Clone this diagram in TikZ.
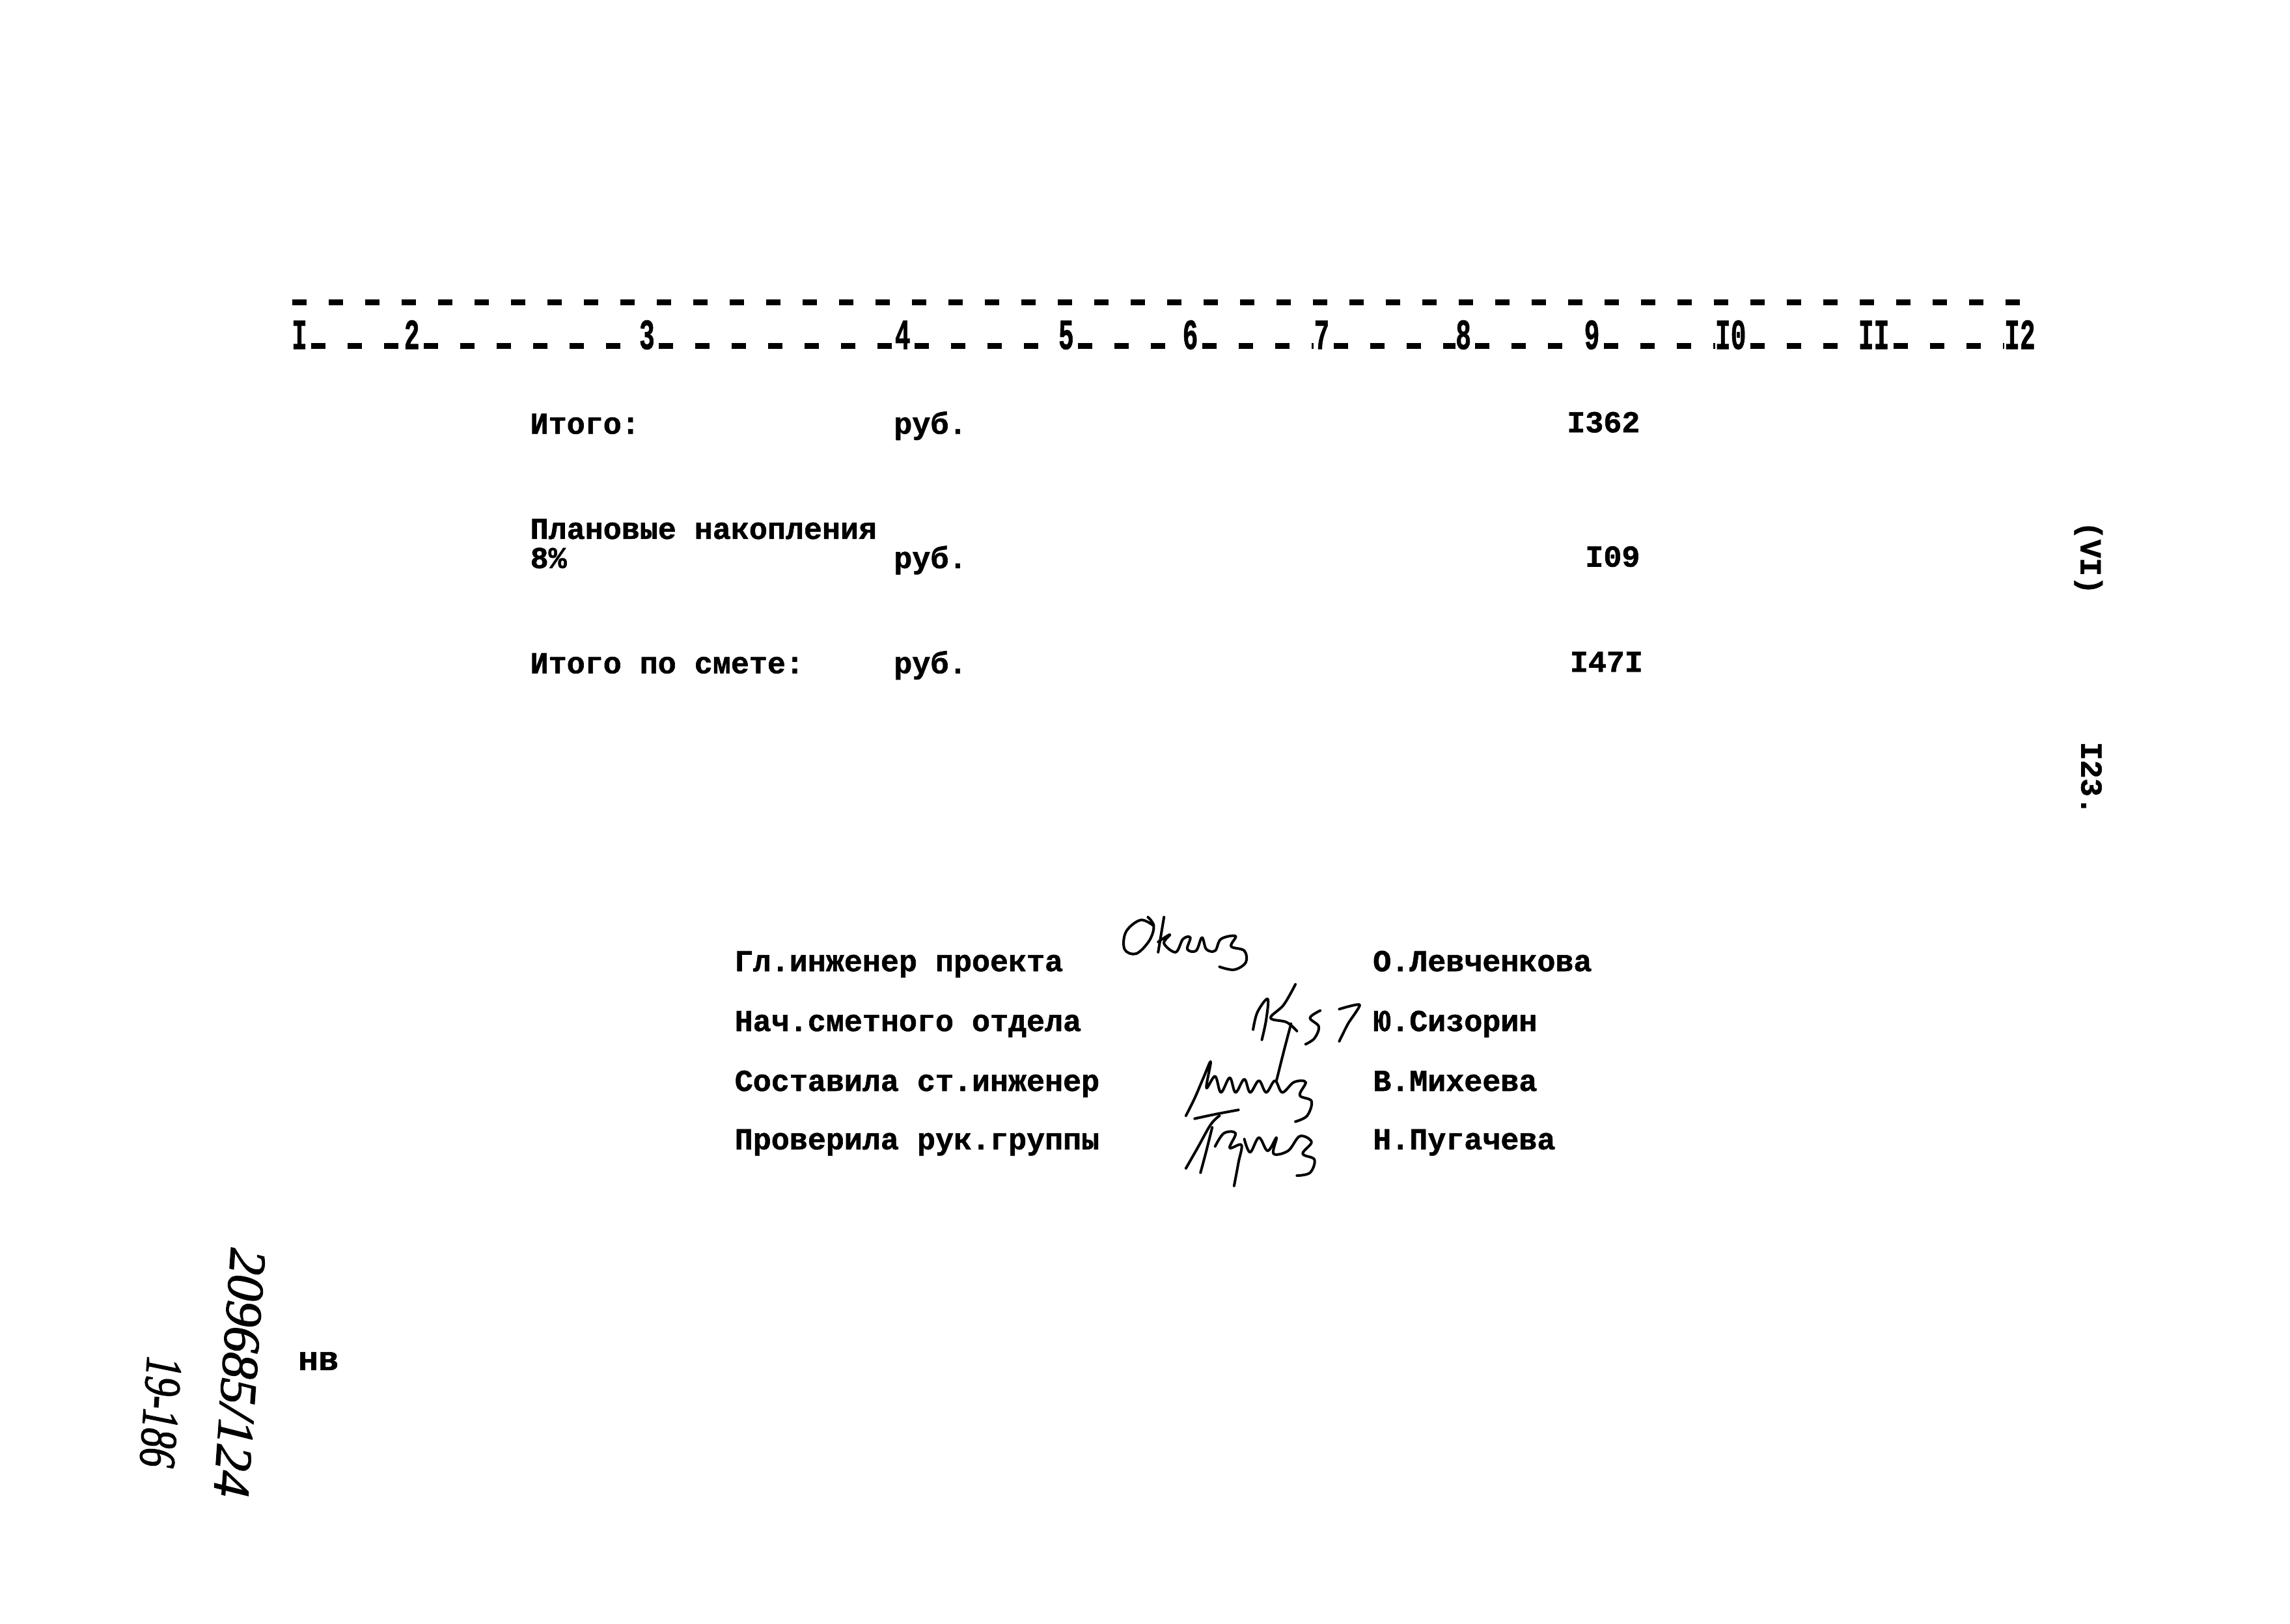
\documentclass[tikz,border=0pt]{standalone}
\usepackage{graphicx}
\usepackage{fontspec}
\newfontfamily\tw{Liberation Mono}[UprightFont=* Bold, FakeBold=1.3]
\newfontfamily\hw{Liberation Serif}[UprightFont=* Italic, FakeBold=1.5]
\begin{document}
\begin{tikzpicture}[x=2.2436pt,y=-2.2436pt,
  typed/.style={font=\tw\fontsize{46.7pt}{50pt}\selectfont, inner sep=0pt},
  colnum/.style={font=\tw\fontsize{66pt}{70pt}\selectfont, inner sep=0pt, anchor=base},
  dashrow/.style={line width=9pt, dash pattern=on 22pt off 34pt},
  sig/.style={line width=4pt, line cap=round, line join=round},
  hand/.style={font=\hw\fontsize{80pt}{84pt}\selectfont, inner sep=0pt}]
\fill[white] (0,0) rectangle (1568,1112);
\useasboundingbox (0,0) rectangle (1568,1112);

% header
\draw[dashrow, dash phase=0pt] (200,207) -- (1392,207);
\node[colnum] (c1) at (205,239) {\scalebox{0.6}[1]{I}};
\node[colnum] (c2) at (282,239) {\scalebox{0.6}[1]{2}};
\node[colnum] (c3) at (443,239) {\scalebox{0.6}[1]{3}};
\node[colnum] (c4) at (618,239) {\scalebox{0.6}[1]{4}};
\node[colnum] (c5) at (730,239) {\scalebox{0.6}[1]{5}};
\node[colnum] (c6) at (815,239) {\scalebox{0.6}[1]{6}};
\node[colnum] (c7) at (905,239) {\scalebox{0.6}[1]{7}};
\node[colnum] (c8) at (1002,239) {\scalebox{0.6}[1]{8}};
\node[colnum] (c9) at (1090,239) {\scalebox{0.6}[1]{9}};
\node[colnum] (c10) at (1185,239) {\scalebox{0.6}[1]{I0}};
\node[colnum] (c11) at (1283,239) {\scalebox{0.6}[1]{II}};
\node[colnum] (c12) at (1383,239) {\scalebox{0.6}[1]{I2}};
\foreach \a/\b in {c1/c2,c2/c3,c3/c4,c4/c5,c5/c6,c6/c7,c7/c8,c8/c9,c9/c10,c10/c11,c11/c12}
  \draw[dashrow, dash phase=50pt] ([yshift=5pt]\a.base east) -- ([yshift=5pt]\b.base west);

% totals
\node[typed, anchor=base west] (t1) at (363,297) {Итого:};
\node[typed, anchor=base west] (r1) at (612,297) {руб.};
\node[typed, anchor=base east] (v1) at (1123,296) {I362};
\node[typed, anchor=base west] (t2) at (363,369) {Плановые накопления};
\node[typed, anchor=base west] (t2b) at (363,389) {8\%};
\node[typed, anchor=base west] (r2) at (612,389) {руб.};
\node[typed, anchor=base east] (v2) at (1123,388) {I09};
\node[typed, anchor=base west] (t3) at (363,461) {Итого по смете:};
\node[typed, anchor=base west] (r3) at (612,461) {руб.};
\node[typed, anchor=base east] (v3) at (1125,460) {I47I};

% right margin
\node[typed, rotate=-90] (sec) at (1430,382) {(VI)};
\node[typed, rotate=-90] (pg) at (1432,533) {I23.};

% signatures block
\node[typed, anchor=base west] (p1) at (503,665) {Гл.инженер проекта};
\node[typed, anchor=base west] (p2) at (503,706) {Нач.сметного отдела};
\node[typed, anchor=base west] (p3) at (503,747) {Составила ст.инженер};
\node[typed, anchor=base west] (p4) at (503,787) {Проверила рук.группы};
\node[typed, anchor=base west] (n1) at (940,665) {О.Левченкова};
\node[typed, anchor=base west] (n2) at (940,706) {Ю.Сизорин};
\node[typed, anchor=base west] (n3) at (940,747) {В.Михеева};
\node[typed, anchor=base west] (n4) at (940,787) {Н.Пугачева};

% handwritten signatures
\draw[sig] plot[smooth, tension=0.6] coordinates {(790,634) (781,630) (771,638) (770,650) (778,653) (787,644) (790,634) (786,628)};
\draw[sig] (797,628) -- (793,652);
\draw[sig] plot[smooth, tension=0.6] coordinates {(793,645) (801,640) (797,646) (805,652) (810,643) (815,642) (813,650) (819,651) (823,642) (826,650) (832,651) (836,643) (846,641) (843,648) (852,651) (853,659) (845,664) (835,662)};
\draw[sig] plot[smooth, tension=0.6] coordinates {(858,705) (861,693) (868,684) (867,698) (864,712)};
\draw[sig] plot[smooth, tension=0.6] coordinates {(887,674) (879,688) (870,697) (881,700) (888,706)};
\draw[sig] plot[smooth, tension=0.5] coordinates {(884,701) (879,720) (874,740)};
\draw[sig] plot[smooth, tension=0.6] coordinates {(904,692) (897,697) (903,703) (900,711) (894,715)};
\draw[sig] plot[smooth, tension=0.4] coordinates {(917,691) (931,688) (923,701) (917,713)};
\draw[sig] plot[smooth, tension=0.6] coordinates {(812,764) (818,752) (824,738) (829,727) (826,745) (832,737) (836,748) (842,738) (846,748) (852,739) (856,748) (862,740) (867,748) (873,740) (878,748) (886,741) (894,741) (890,750) (898,754) (895,764) (887,768)};
\draw[sig] plot[smooth, tension=0.6] coordinates {(812,800) (820,786) (829,770) (835,764)};
\draw[sig] plot[smooth, tension=0.6] coordinates {(818,766) (832,763) (848,760)};
\draw[sig] plot[smooth, tension=0.6] coordinates {(830,772) (826,788) (822,803)};
\draw[sig] plot[smooth, tension=0.6] coordinates {(832,785) (838,776) (846,776) (842,786) (850,784) (848,796) (845,812)};
\draw[sig] plot[smooth, tension=0.6] coordinates {(852,780) (856,789) (862,779) (868,788) (874,779) (872,790) (882,788) (890,778) (898,782) (892,790) (900,794) (897,803) (888,805)};

% archive marks
\node[hand, rotate=-94] (arch1) at (164,940) {209685/124};
\node[hand, rotate=-94] (arch2) at (110,967) {\scalebox{0.75}[1]{19-186}};
\node[font=\tw\fontsize{52pt}{56pt}\selectfont, inner sep=0pt] (nv) at (218,932) {нв};
\end{tikzpicture}
\end{document}
